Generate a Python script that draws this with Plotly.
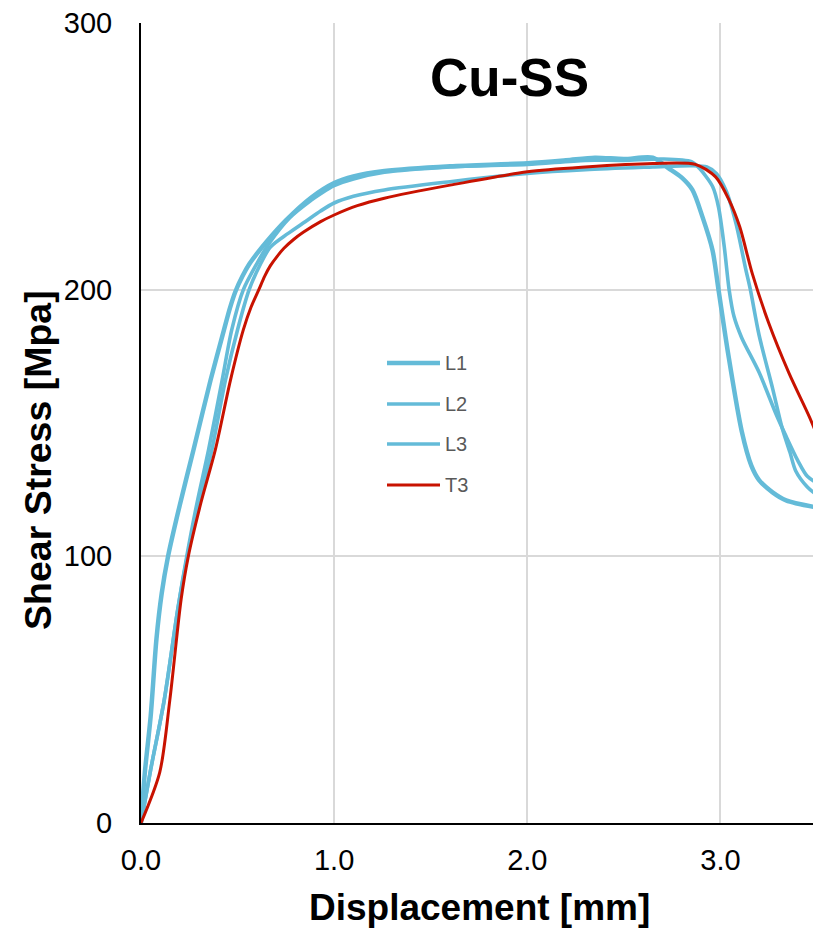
import plotly.graph_objects as go

# ---- data ----
L1_x = [0, 0.02, 0.05, 0.08, 0.107, 0.14, 0.2, 0.272, 0.36, 0.43, 0.46, 0.49, 0.525, 0.56, 0.6, 0.65, 0.75, 0.88, 1.0, 1.1, 1.26,
        1.6, 2.0, 2.2, 2.35, 2.5, 2.65, 2.73, 2.8, 2.855, 2.907, 2.959, 2.99, 3.04, 3.11, 3.16, 3.2, 3.27, 3.34, 3.5]
L1_y = [0, 19, 40, 69, 86, 100, 119, 140, 166, 185, 193, 199.5, 205, 209.5, 213.5, 218, 226, 234.5, 240, 242.5, 244.5,
        246.3, 247.4, 248.5, 249.5, 249, 249.5, 245.6, 242, 237.4, 227.3, 214.8, 200, 176, 147, 134, 128.6, 124, 121, 118.3]

L2_x = [0, 0.05, 0.12, 0.19, 0.237, 0.29, 0.35, 0.42, 0.47, 0.53, 0.60, 0.66, 0.77, 0.88, 0.93, 1.0, 1.1, 1.26,
        1.6, 2.0, 2.3, 2.5, 2.7, 2.85, 2.89, 2.96, 2.99, 3.02, 3.045, 3.07, 3.11, 3.2, 3.29, 3.34, 3.4, 3.45, 3.5]
L2_y = [0, 20, 46, 80, 100, 120, 140, 166, 185, 200, 209.8, 217, 227, 233.5, 236, 239, 241.5, 244,
        246, 247, 248.5, 248.5, 249, 248, 245.6, 238.6, 231, 216, 200, 190, 182, 169, 153, 145, 136, 130, 127.5]

L3_x = [0, 0.05, 0.12, 0.19, 0.24, 0.30, 0.367, 0.437, 0.50, 0.56, 0.62, 0.67, 0.76, 0.85, 0.93, 1.0, 1.1, 1.26,
        1.6, 2.0, 2.3, 2.65, 2.85, 2.93, 2.98, 3.03, 3.08, 3.13, 3.155, 3.2, 3.27, 3.32, 3.36, 3.39, 3.45, 3.5]
L3_y = [0, 20, 46, 80, 100, 120, 140, 166, 185, 200, 209.8, 216, 221, 225.5, 229.5, 232.5, 235, 237.4,
        240.5, 243.6, 245, 246, 246.5, 246, 243.5, 237, 225, 208, 200, 183, 163, 148, 139, 132, 126, 123]

T3_x = [0, 0.097, 0.149, 0.208, 0.245, 0.31, 0.385, 0.463, 0.53, 0.57, 0.61, 0.64, 0.67, 0.705, 0.74, 0.79, 0.84, 0.93,
        1.0, 1.12, 1.26, 1.6, 2.0, 2.3, 2.65, 2.87, 2.975, 3.045, 3.1, 3.165, 3.25, 3.355, 3.46, 3.5]
T3_y = [0, 19, 46, 84, 100, 120, 140, 166, 185, 193.5, 200, 205, 209, 212.5, 215.5, 218.8, 221.5, 225.5,
        228, 231.5, 234.3, 239.2, 244.2, 246, 247.3, 247, 242.3, 233.6, 223.6, 206, 187.5, 168.7, 152.4, 145.5]

series_names = ["L1", "L2", "L3", "T3"]
x_ticks = [0.0, 1.0, 2.0, 3.0]
y_ticks = [0, 100, 200, 300]

# ---- styles ----
BLUE = "#64BBD8"
RED = "#C81200"
FONT = "Liberation Sans, Arial, sans-serif"
styles = {"L1": (BLUE, 4.5), "L2": (BLUE, 3.6), "L3": (BLUE, 3.6), "T3": (RED, 3.0)}
data = {"L1": (L1_x, L1_y), "L2": (L2_x, L2_y), "L3": (L3_x, L3_y), "T3": (T3_x, T3_y)}

OFF = 8  # page body margin
W, H = 821 - OFF, 930 - OFF
ML, MT = 141 - OFF, 23 - OFF
PLOT_R, PLOT_B = 817 - OFF, 823 - OFF
MR, MB = W - PLOT_R, H - PLOT_B
PW, PH = PLOT_R - ML, PLOT_B - MT

fig = go.Figure()
for name in series_names:
    xs, ys = data[name]
    col, lw = styles[name]
    fig.add_trace(go.Scatter(x=xs, y=ys, mode="lines", name=name,
                             line=dict(color=col, width=lw, shape="spline", smoothing=0.8),
                             showlegend=False, hoverinfo="skip"))

def px2paper_x(px):
    return (px - OFF - ML) / PW

def px2paper_y(py):
    return (PLOT_B - (py - OFF)) / PH

# manual legend (Excel-like, long line samples)
leg_rows = [363, 404, 444, 485]
for name, row in zip(series_names, leg_rows):
    col, lw = styles[name]
    fig.add_shape(type="line", xref="paper", yref="paper",
                  x0=px2paper_x(387), x1=px2paper_x(440),
                  y0=px2paper_y(row), y1=px2paper_y(row),
                  line=dict(color=col, width=lw))
    fig.add_annotation(xref="paper", yref="paper", x=px2paper_x(443), y=px2paper_y(row),
                       text=name, showarrow=False, xanchor="left", yanchor="middle",
                       font=dict(family=FONT, size=20, color="#595959"))

# chart title
fig.add_annotation(xref="paper", yref="paper", x=px2paper_x(510), y=px2paper_y(78),
                   text="<b>Cu-SS</b>", showarrow=False, xanchor="center", yanchor="middle",
                   font=dict(family=FONT, size=53, color="black"))
# axis titles
fig.add_annotation(xref="paper", yref="paper", x=px2paper_x(479), y=px2paper_y(907),
                   text="<b>Displacement [mm]</b>", showarrow=False, xanchor="center", yanchor="middle",
                   font=dict(family=FONT, size=37, color="black"))
fig.add_annotation(xref="paper", yref="paper", x=px2paper_x(38), y=px2paper_y(460),
                   text="<b>Shear Stress [Mpa]</b>", showarrow=False, textangle=-90,
                   xanchor="center", yanchor="middle",
                   font=dict(family=FONT, size=37.5, color="black"))

fig.update_layout(
    width=W, height=H,
    margin=dict(l=ML, r=MR, t=MT, b=MB, autoexpand=False),
    paper_bgcolor="white", plot_bgcolor="white",
    font=dict(family=FONT, color="black"),
    xaxis=dict(range=[0, 3.5], tickvals=x_ticks, ticktext=[f"{v:.1f}" for v in x_ticks],
               showgrid=True, gridcolor="#D9D9D9", gridwidth=1.5,
               showline=True, linecolor="black", linewidth=2, ticks="",
               tickfont=dict(family=FONT, size=29, color="black"), automargin=False,
               ticklabelstandoff=10, ticklabeloverflow="allow", zeroline=False, fixedrange=True),
    yaxis=dict(range=[0, 300], tickvals=y_ticks,
               showgrid=True, gridcolor="#D9D9D9", gridwidth=1.5,
               showline=True, linecolor="black", linewidth=2, ticks="",
               tickfont=dict(family=FONT, size=29, color="black"), automargin=False,
               ticklabelstandoff=21, ticklabeloverflow="allow", zeroline=False, fixedrange=True),
)

fig.write_html("out.html")
